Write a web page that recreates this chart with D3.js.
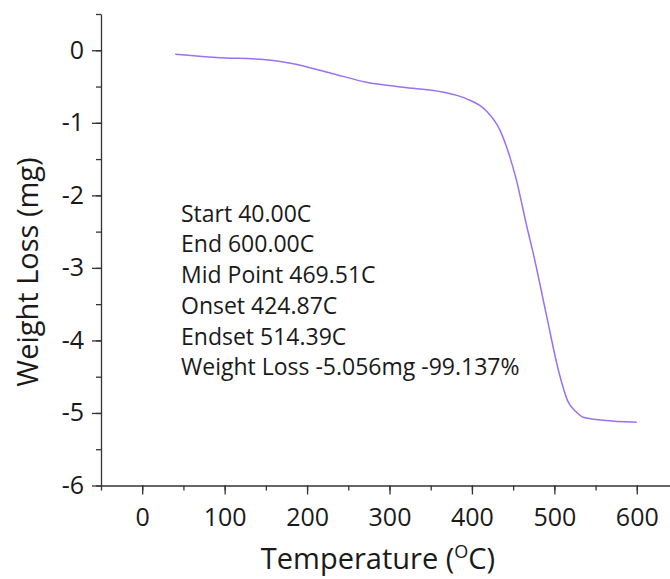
<!DOCTYPE html>
<html>
<head>
<meta charset="utf-8">
<script src="https://cdn.jsdelivr.net/npm/d3@7"></script>
<style>
  body { margin: 0; background: #fff; }
  text { font-family: "Open Sans", sans-serif; fill: #1a1a1a; }
</style>
</head>
<body>
<div id="chart"></div>
<script>
// TGA curve: temperature (C) and weight loss (mg)
const temps = [40, 90, 150, 180, 230, 272, 316, 364, 393, 417, 434, 446, 454, 467, 474, 490, 506, 516, 526, 535, 559, 600];
const weights = [-0.055, -0.10, -0.13, -0.18, -0.32, -0.44, -0.51, -0.575, -0.667, -0.83, -1.10, -1.47, -1.79, -2.45, -2.78, -3.63, -4.46, -4.83, -4.98, -5.06, -5.10, -5.127];

const xTicks = [0, 100, 200, 300, 400, 500, 600];
const yTicks = [0, -1, -2, -3, -4, -5, -6];

const notes = [
  "Start 40.00C",
  "End 600.00C",
  "Mid Point 469.51C",
  "Onset 424.87C",
  "Endset 514.39C",
  "Weight Loss -5.056mg -99.137%"
];

const width = 670, height = 579;
const data = temps.map((t, i) => ({ t: t, w: weights[i] }));

const x = d3.scaleLinear().domain([-50, 650]).range([101, 678]);
const y = d3.scaleLinear().domain([-6, 0.5]).range([485.5, 14]);

const svg = d3.select("#chart")
  .append("svg")
  .attr("width", width)
  .attr("height", height);

svg.append("rect").attr("width", width).attr("height", height).attr("fill", "#fff");

// minor ticks first, then major ticks with labels
const xMinor = svg.append("g")
  .attr("transform", `translate(0,${y(-6)})`)
  .call(d3.axisBottom(x).tickValues(d3.range(-50, 651, 50)).tickSize(5).tickFormat(""));
xMinor.select(".domain").remove();

const xAxis = svg.append("g")
  .attr("transform", `translate(0,${y(-6)})`)
  .call(d3.axisBottom(x).tickValues(xTicks).tickSize(9).tickPadding(14).tickSizeOuter(0));
xAxis.selectAll("text").attr("font-size", "25px").attr("dy", "0.71em");

const yMinor = svg.append("g")
  .attr("transform", `translate(${x(-50)},0)`)
  .call(d3.axisLeft(y).tickValues(d3.range(-6, 0.51, 0.5)).tickSize(5).tickFormat(""));
yMinor.select(".domain").remove();

// plain hyphen for negatives, as in the original
const yAxis = svg.append("g")
  .attr("transform", `translate(${x(-50)},0)`)
  .call(d3.axisLeft(y).tickValues(yTicks).tickSize(9).tickPadding(8).tickSizeOuter(0).tickFormat(d => String(d)));
yAxis.selectAll("text").attr("font-size", "25px");

svg.selectAll(".domain, .tick line").attr("stroke", "#333").attr("stroke-width", 1.3);

// weight loss curve
const line = d3.line()
  .x(d => x(d.t))
  .y(d => y(d.w))
  .curve(d3.curveMonotoneX);

svg.append("path")
  .datum(data)
  .attr("fill", "none")
  .attr("stroke", "#9a72ee")
  .attr("stroke-width", 1.5)
  .attr("d", line);

// annotation block
svg.append("g")
  .selectAll("text")
  .data(notes)
  .enter()
  .append("text")
  .attr("x", 181)
  .attr("y", (d, i) => 221.7 + i * 30.7)
  .attr("font-size", "23px")
  .text(d => d);

// axis titles
svg.append("text")
  .attr("transform", `translate(38,272) rotate(-90)`)
  .attr("text-anchor", "middle")
  .attr("font-size", "29px")
  .text("Weight Loss (mg)");

const xTitle = svg.append("text")
  .attr("x", 378)
  .attr("y", 569)
  .attr("text-anchor", "middle")
  .attr("font-size", "29px");
xTitle.append("tspan").text("Temperature (");
xTitle.append("tspan").attr("font-size", "18px").attr("dy", "-11").text("O");
xTitle.append("tspan").attr("dy", "11").text("C)");
</script>
</body>
</html>
